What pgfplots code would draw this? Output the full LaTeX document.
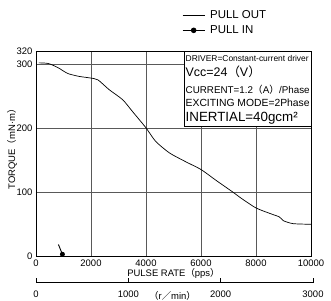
\documentclass[border=0pt]{standalone}
\usepackage{fontspec}
\setmainfont{Liberation Sans}
\newfontfamily\cjk{Noto Sans CJK JP}
\usepackage{graphicx}
\usepackage{pgfplots}
\usepackage{pgfplotstable}
\pgfplotsset{compat=1.18}

\pgfplotstableread{
x y
100 301.5
450 300.5
800 294
1150 285
1550 280.5
1950 278
2250 275
2650 260
3150 244
3500 226
4000 200
4350 179
4850 161
5450 147
6000 135
6550 118
7150 100
7500 89
8000 75
8500 66.5
8850 61
9000 55
9350 50.5
10000 49.5
}\pullout

\pgfplotstableread{
x y
815 18
960 2.7
}\pullin

\begin{document}
\begin{tikzpicture}
\begin{axis}[
  at={(0,0)}, anchor=south west, scale only axis,
  width=275bp, height=205bp,
  xmin=0, xmax=10000, ymin=0, ymax=320,
  xtick={0,2000,...,10000}, ytick={0,100,200,300,320},
  scaled x ticks=false, scaled y ticks=false,
  grid=major, major grid style={black!65, line width=0.6pt},
  major tick length=0pt,
  axis line style={black, line width=0.6pt},
  tick label style={font=\fontsize{9.5}{11}\selectfont},
  /pgf/number format/1000 sep={},
  /pgf/number format/assume math mode=true,
  xlabel={PULSE RATE{\cjk（}pps{\cjk）}},
  xlabel style={at={(axis description cs:0.5,0)}, anchor=center, yshift=-17.5bp, font=\fontsize{9.5}{11}\selectfont},
  ylabel={TORQUE{\cjk（}mN·m{\cjk）}},
  ylabel style={at={(axis description cs:-0.087,0.532)}, anchor=center, rotate=0, font=\fontsize{9.5}{11}\selectfont},
  legend style={at={(axis description cs:0.531,1.21)}, anchor=north west, draw=none, fill=none,
    inner sep=0pt, row sep=2bp, font=\fontsize{11.5}{13}\selectfont,
    /tikz/every odd column/.append style={column sep=3bp}},
  legend cell align=left,
]
\draw[black, line width=0.6pt, fill=white] (axis cs:5382,203) rectangle (axis cs:10000,320);
\node[anchor=base west, inner sep=0pt] at (axis cs:5436,303.3) {\resizebox{123bp}{!}{\fontsize{10}{12}\selectfont DRIVER=Constant-current driver}};
\node[anchor=base west, inner sep=0pt] at (axis cs:5436,279.9) {\resizebox{75bp}{!}{\fontsize{10}{12}\selectfont Vcc=24{\cjk（}V{\cjk）}}};
\node[anchor=base west, inner sep=0pt] at (axis cs:5436,254) {\resizebox{124bp}{!}{\fontsize{10}{12}\selectfont CURRENT=1.2{\cjk（}A{\cjk）}/Phase}};
\node[anchor=base west, inner sep=0pt] at (axis cs:5436,233) {\resizebox{124bp}{!}{\fontsize{10}{12}\selectfont EXCITING MODE=2Phase}};
\node[anchor=base west, inner sep=0pt] at (axis cs:5436,209.6) {\resizebox{112bp}{!}{\fontsize{10}{12}\selectfont INERTIAL=40gcm²}};
\addplot[black, line width=0.7pt, smooth, tension=0.4,
  legend image code/.code={\draw[black, line width=0.7pt] (0bp,0bp) -- (22bp,0bp);}] table[x=x,y=y] {\pullout};
\addlegendentry{PULL OUT}
\addplot[black, line width=0.9pt, mark=*, mark size=2bp, mark repeat=2, mark phase=2,
  legend image code/.code={\draw[black, line width=0.9pt] (0bp,0bp) -- (22bp,0bp); \fill[black] (11bp,0bp) circle (2.3bp);}] table[x=x,y=y] {\pullin};
\addlegendentry{PULL IN}
\end{axis}
\begin{axis}[
  at={(0,-26.5bp)}, anchor=south west, scale only axis,
  width=277bp, height=1bp,
  xmin=0, xmax=3000, ymin=0, ymax=1,
  axis y line=none, axis x line*=bottom,
  xtick={0,1000,2000,3000}, ytick=\empty,
  scaled x ticks=false,
  tick align=inside, major tick length=4.5bp,
  xtick style={black, line width=0.6pt},
  x axis line style={black, line width=0.6pt, -},
  tick label style={font=\fontsize{9.5}{11}\selectfont, yshift=-4.5bp},
  /pgf/number format/1000 sep={},
  /pgf/number format/assume math mode=true,
  xlabel={{\cjk（}r{\cjk／}min{\cjk）}},
  xlabel style={at={(axis description cs:0.493,0)}, anchor=center, yshift=-13.5bp, font=\fontsize{9.5}{11}\selectfont},
]
\addplot[draw=none] coordinates {(0,0)};
\end{axis}
\pgfresetboundingbox
\path (-36bp,-45bp) rectangle (295bp,256bp);
\end{tikzpicture}
\end{document}
